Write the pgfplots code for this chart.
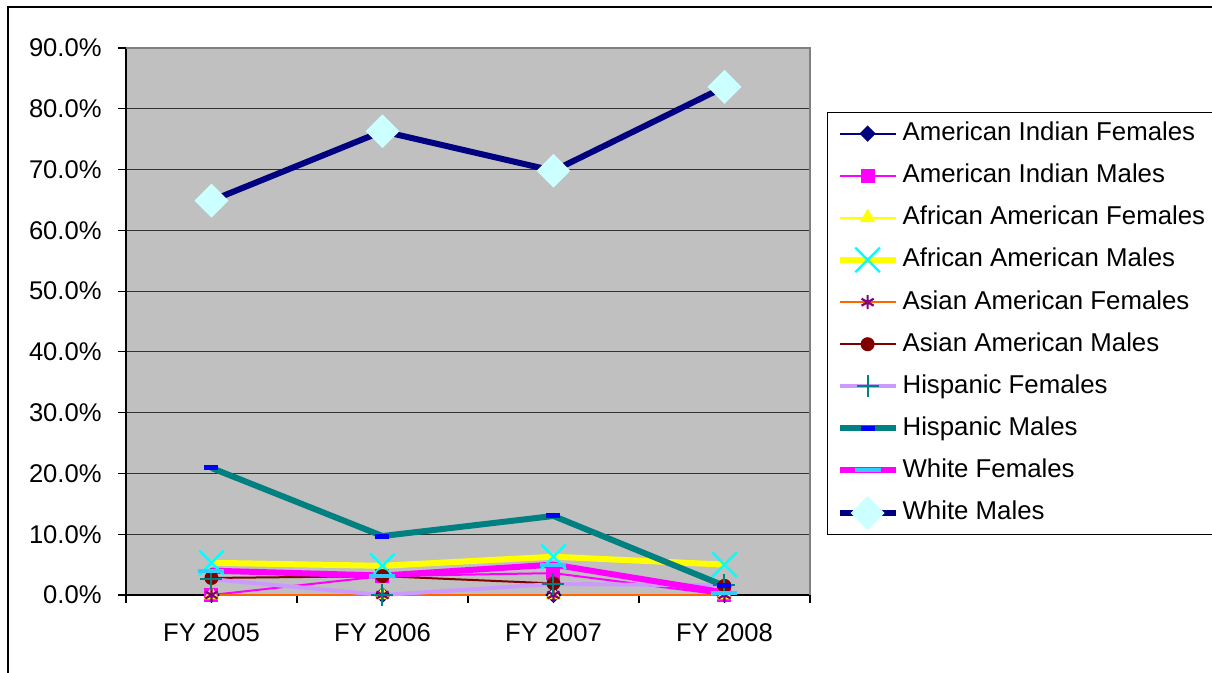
\documentclass[border=0pt]{standalone}
\usepackage{fontspec}
\setmainfont{Liberation Sans}
\usepackage{pgfplots}
\pgfplotsset{compat=1.18}

\definecolor{xlnavy}{HTML}{000080}
\definecolor{xlmagenta}{HTML}{FF00FF}
\definecolor{xlyellow}{HTML}{FFFF00}
\definecolor{xlcyan}{HTML}{00FFFF}
\definecolor{xlorange}{HTML}{FF6600}
\definecolor{xlpurple}{HTML}{800080}
\definecolor{xldarkred}{HTML}{800000}
\definecolor{xllavender}{HTML}{CC99FF}
\definecolor{xlteal}{HTML}{008080}
\definecolor{xlblue}{HTML}{0000FF}
\definecolor{xlsky}{HTML}{33CCFF}
\definecolor{xllightcyan}{HTML}{CCFFFF}
\definecolor{plotgray}{HTML}{C0C0C0}
\definecolor{gridgray}{HTML}{333333}

\begin{document}
\begin{tikzpicture}
\path[use as bounding box] (-63pt,-39pt) rectangle (543pt,297.5pt);
\draw[line width=1pt] (-59pt,-45pt) -- (-59pt,294pt) -- (550pt,294pt);
\begin{axis}[
  scale only axis,
  width=342pt,
  height=273.5pt,
  at={(0,0)}, anchor=south west,
  xmin=-0.5, xmax=3.5,
  ymin=0, ymax=90,
  xtick={0,1,2,3},
  xticklabels={FY 2005,FY 2006,FY 2007,FY 2008},
  minor xtick={-0.5,0.5,1.5,2.5,3.5},
  ytick={0,10,...,90},
  /pgf/number format/assume math mode=true,
  yticklabel={\pgfmathprintnumber[fixed,fixed zerofill,precision=1]{\tick}\%},
  axis x line*=bottom,
  axis y line*=left,
  axis line style={-, black, line width=0.6pt},
  tick align=outside,
  major tick length=4pt,
  minor tick length=4pt,
  tick style={black, line width=0.6pt},
  major x tick style={draw=none},
  ymajorgrids,
  major grid style={gridgray, line width=0.5pt},
  axis background/.style={fill=plotgray},
  tick label style={font=\fontsize{12.8}{15}\selectfont},
  xticklabel style={anchor=north, inner sep=0pt, yshift=-10pt},
  yticklabel style={anchor=east, inner sep=0pt, xshift=-8pt},
  clip=false,
  legend style={
    at={(1.0249,0.883)}, anchor=north west,
    draw=black, line width=0.6pt, fill=white,
    inner sep=4.5pt, row sep=9pt, column sep=2pt,
    font=\fontsize{12.9}{15}\selectfont,
    nodes={inner sep=0pt, text height=9.5pt, text depth=2.5pt},
  },
  legend cell align=left,
  legend image code/.code={
    \draw[mark repeat=2,mark phase=2] plot coordinates {(0pt,0pt) (14pt,0pt) (28pt,0pt)};
  },
]
% American Indian Females
\addplot[color=xlnavy, line width=1pt, mark=square*, mark size=2.4pt,
  mark options={rotate=45, fill=xlnavy, draw=xlnavy, solid}]
  coordinates {(0,0) (1,0) (2,0) (3,0)};
% American Indian Males
\addplot[color=xlmagenta, line width=1pt, mark=square*, mark size=3pt,
  mark options={fill=xlmagenta, draw=xlmagenta, solid}]
  coordinates {(0,0) (1,3.1) (2,3.6) (3,0)};
% African American Females
\addplot[color=xlyellow, line width=1pt, mark=triangle*, mark size=3.5pt,
  mark options={fill=xlyellow, draw=xlyellow, solid}]
  coordinates {(0,0) (1,0) (2,0) (3,0)};
% African American Males
\addplot[color=xlyellow, line width=3pt, mark=x, mark size=8.7pt,
  mark options={draw=xlcyan, line width=1.2pt, solid}]
  coordinates {(0,5.3) (1,4.8) (2,6.3) (3,5.0)};
% Asian American Females
\addplot[color=xlorange, line width=1pt, mark=asterisk, mark size=3.5pt,
  mark options={draw=xlpurple, line width=1.1pt, solid}]
  coordinates {(0,0) (1,0) (2,0) (3,0)};
% Asian American Males
\addplot[color=xldarkred, line width=1pt, mark=*, mark size=3pt,
  mark options={fill=xldarkred, draw=xldarkred, solid}]
  coordinates {(0,2.8) (1,3.1) (2,1.9) (3,1.5)};
% Hispanic Females
\addplot[color=xllavender, line width=2pt, mark=+, mark size=5.5pt,
  mark options={draw=xlteal, line width=1pt, solid}]
  coordinates {(0,2.6) (1,0) (2,1.8) (3,1.6)};
% Hispanic Males
\addplot[color=xlteal, line width=3pt, mark=-, mark size=3.5pt,
  mark options={draw=xlblue, line width=2.5pt, solid}]
  coordinates {(0,20.9) (1,9.7) (2,13.0) (3,1.5)};
% White Females
\addplot[color=xlmagenta, line width=3pt, mark=-, mark size=6.5pt,
  mark options={draw=xlsky, line width=2pt, solid}]
  coordinates {(0,4.0) (1,3.2) (2,5.0) (3,0.4)};
% White Males
\addplot[color=xlnavy, line width=3pt, mark=square*, mark size=4.5pt,
  mark options={rotate=45, fill=xllightcyan, draw=xllightcyan, solid}]
  coordinates {(0,64.9) (1,76.3) (2,69.8) (3,83.6)};
\legend{American Indian Females,American Indian Males,African American Females,African American Males,Asian American Females,Asian American Males,Hispanic Females,Hispanic Males,White Females,White Males}
\draw[gray, line width=0.6pt] (rel axis cs:0,1) -- (rel axis cs:1,1) -- (rel axis cs:1,0);
\end{axis}
\end{tikzpicture}
\end{document}
